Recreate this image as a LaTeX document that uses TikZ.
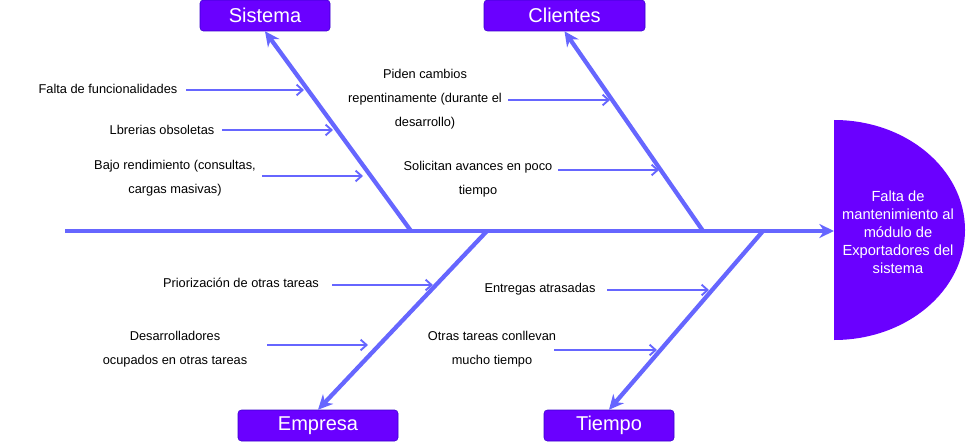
\documentclass[tikz,border=0pt]{standalone}
\usepackage{fontspec}
\setmainfont{Liberation Sans}
\usepackage{xcolor}
\usepackage{tikz}
\usetikzlibrary{arrows.meta,positioning}
\definecolor{violeta}{HTML}{6A00FF}
\definecolor{bordevioleta}{HTML}{3700CC}
\definecolor{espina}{HTML}{6666FF}
\tikzset{
  categoria/.style={rectangle,rounded corners=2.5pt,fill=violeta,draw=bordevioleta,text=white,minimum height=23.25pt,inner sep=0pt,font=\fontsize{15}{18}\selectfont},
  causa/.style={align=center,inner sep=0pt,font=\fontsize{9.6}{18}\selectfont},
  hueso/.style={-{Stealth[length=11pt,width=10.5pt,inset=3.5pt]},espina,line width=3.2pt},
  flechita/.style={-{Straight Barb[length=4.5pt,width=8pt]},espina,line width=1.4pt}
}

\begin{document}
\begin{tikzpicture}[x=0.75pt,y=-0.75pt]
\useasboundingbox (0,0) rectangle (966,442);
% cabeza
\fill[violeta] (834,120) arc[start angle=-90,end angle=90,x radius=131,y radius=110] -- cycle;
\node[text=white,align=center,font=\fontsize{11}{13.5}\selectfont] (efecto) at (898,232)
  {Falta de\\mantenimiento al\\módulo de\\Exportadores del\\sistema};
\coordinate (cabeza) at (834,231);
\coordinate (cola) at (65,231);
% categorias
\node[categoria,minimum width=97.5pt] (sistema) at (265,15.5) {Sistema};
\node[categoria,minimum width=120.75pt] (clientes) at (564.5,15.5) {Clientes};
\node[categoria,minimum width=120pt] (empresa) at (318,425.5) {Empresa};
\node[categoria,minimum width=97.5pt] (tiempo) at (609,425.5) {Tiempo};
% espina
\draw[hueso] (cola) -- (cabeza);
\coordinate (bS) at (411,231);
\coordinate (bC) at (703,231);
\coordinate (bE) at (487,231);
\coordinate (bT) at (763,231);
\draw[hueso] (bS) -- (sistema.south);
\draw[hueso] (bC) -- (clientes.south);
\draw[hueso] (bE) -- (empresa.north);
\draw[hueso] (bT) -- (tiempo.north);
% causas
\node[causa] (c1) at (108,89) {Falta de funcionalidades};
\node[causa] (c2) at (162,130) {Lbrerias obsoletas};
\node[causa] (c3) at (175,178.5) {Bajo rendimiento (consultas,\\cargas masivas)};
\node[causa] (c4) at (425,99) {Piden cambios\\repentinamente (durante el\\desarrollo)};
\node[causa] (c5) at (478,179) {Solicitan avances en poco\\tiempo};
\node[causa] (c6) at (241,283) {Priorización de otras tareas};
\node[causa] (c7) at (175,349) {Desarrolladores\\ocupados en otras tareas};
\node[causa] (c8) at (540,289) {Entregas atrasadas};
\node[causa] (c9) at (492,349.5) {Otras tareas conllevan\\mucho tiempo};
% flechas de causas
\foreach \n/\xa/\xb/\y in {1/186/304/90,2/222/333/130,3/262/363/176,4/508/610/100,
  5/558/659/170,6/332/433/285,7/267/368/345,8/607/709/290,9/554/657/350}{
  \coordinate (i\n) at (\xa,\y);
  \coordinate (f\n) at (\xb,\y);
  \draw[flechita] (i\n) -- (f\n);
}
\end{tikzpicture}
\end{document}
